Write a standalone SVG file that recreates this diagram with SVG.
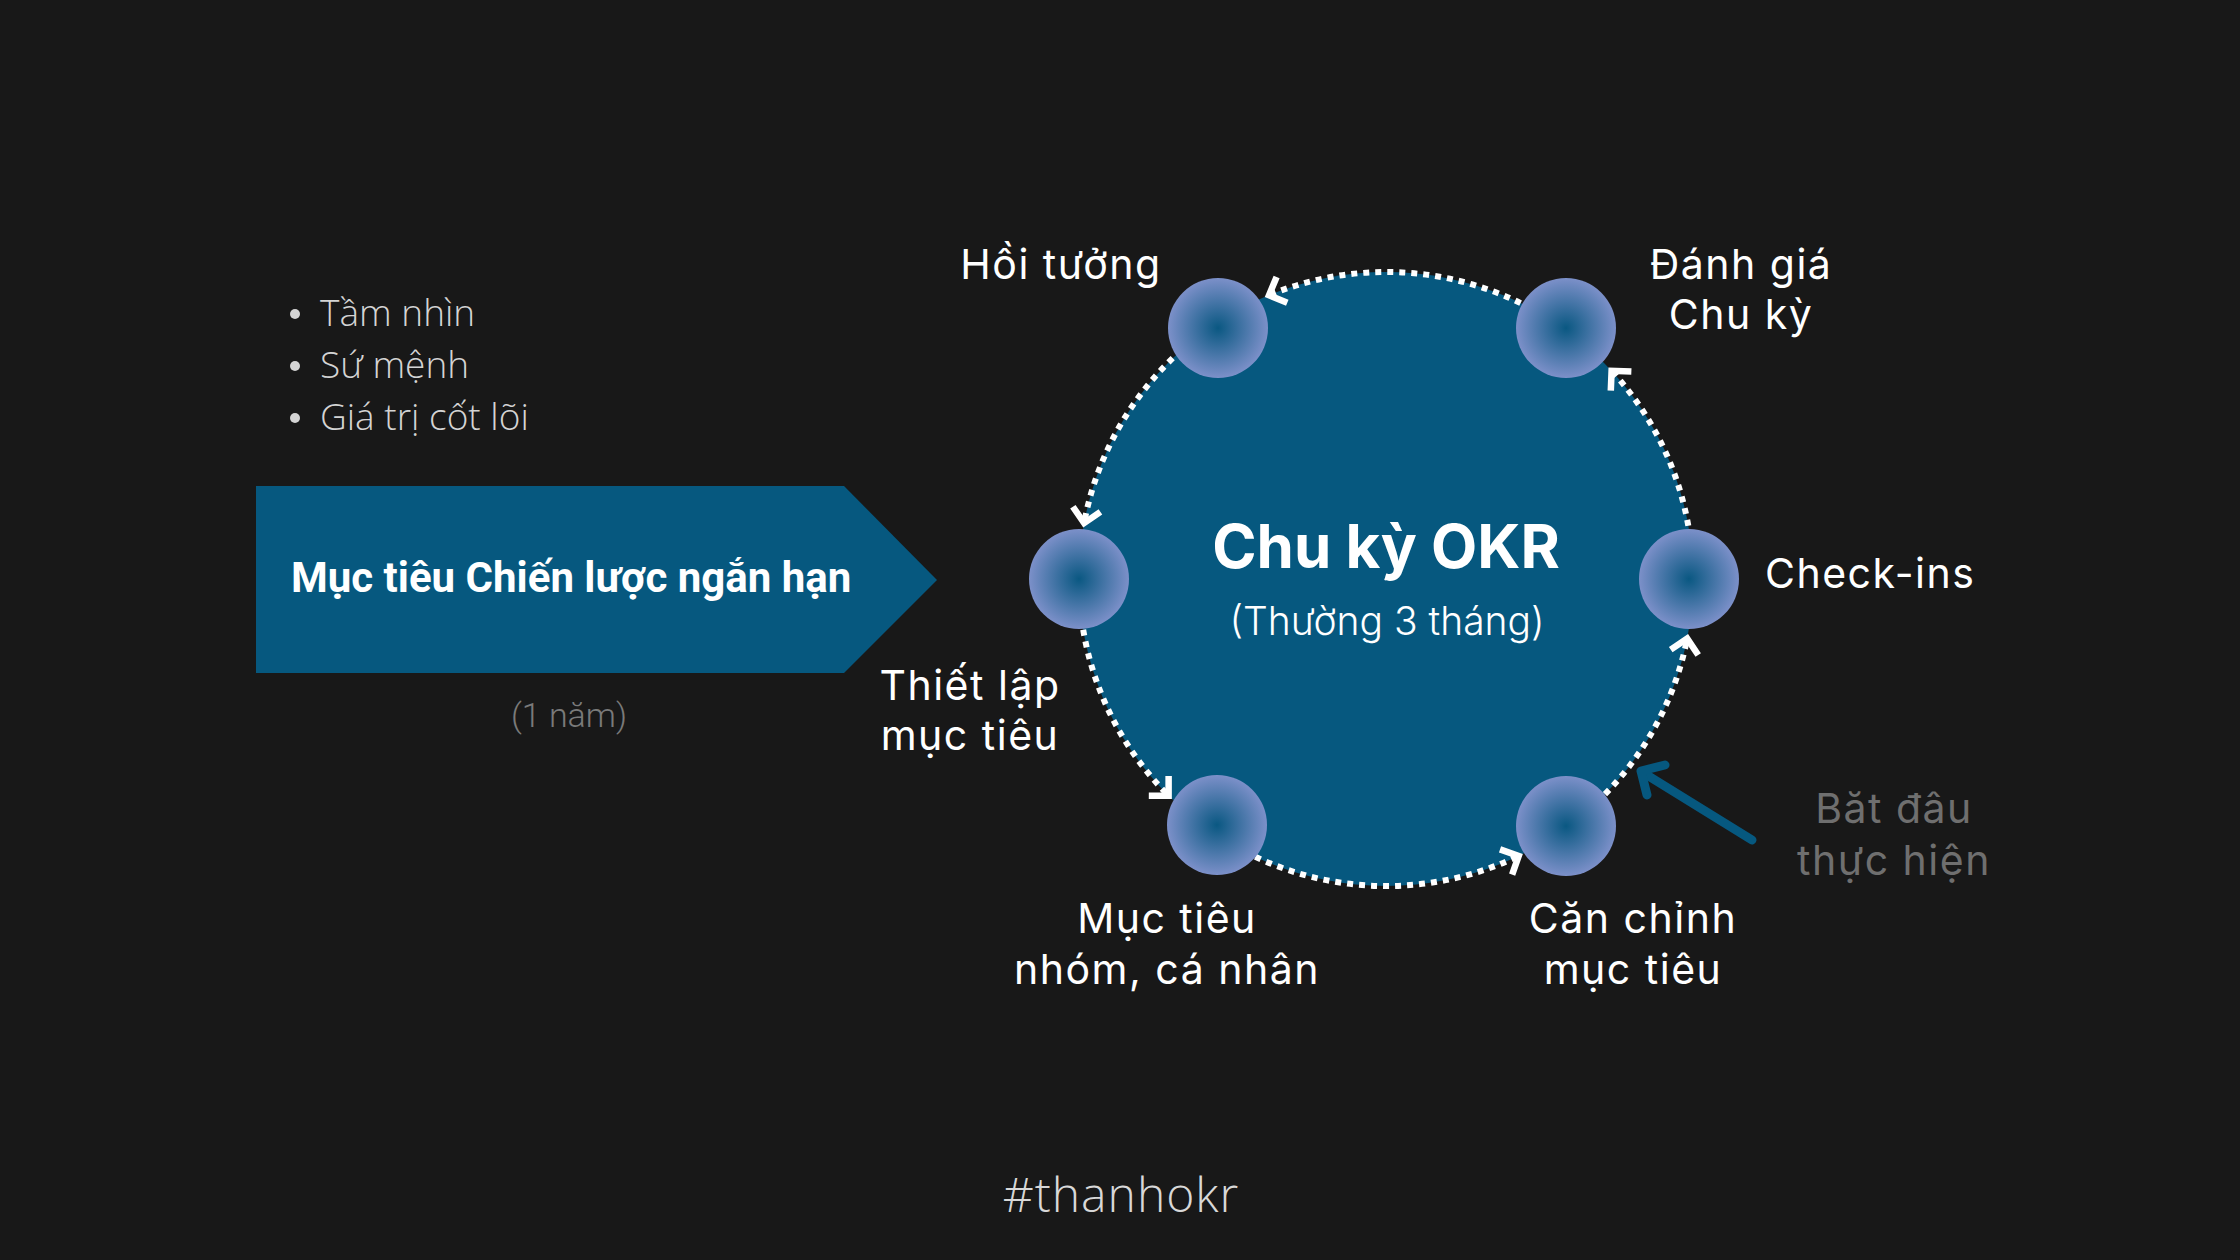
<svg xmlns="http://www.w3.org/2000/svg" width="2240" height="1260" viewBox="0 0 2240 1260">
<defs>
<radialGradient id="ng" cx="50%" cy="50%" r="50%">
<stop offset="0%" stop-color="#0a5882"/>
<stop offset="100%" stop-color="#7c90c9"/>
</radialGradient>
<marker id="ah" markerUnits="userSpaceOnUse" markerWidth="44" markerHeight="44" viewBox="-22 -22 44 44" refX="0" refY="0" orient="auto" overflow="visible">
<path d="M-14,-14 L0,0 L-14,14" fill="none" stroke="#ffffff" stroke-width="6.5" stroke-dasharray="none"/>
</marker>
<style>
.lbl{font-family:Inter,"Noto Sans",sans-serif;font-size:41px;letter-spacing:1.5px;fill:#ffffff;text-anchor:middle}
.arc{fill:none;stroke:#ffffff;stroke-width:6;stroke-dasharray:6 6;marker-end:url(#ah)}
.node{fill:url(#ng)}
.bul{font-family:"Open Sans",Roboto,sans-serif;font-weight:300;font-size:37px;fill:#d4d4d4}
</style>
</defs>
<rect width="2240" height="1260" fill="#181818"/>

<g id="vision-list">
<circle cx="295" cy="314" r="5" fill="#d4d4d4"/>
<text class="bul" x="320" y="326">Tầm nhìn</text>
<circle cx="295" cy="366" r="5" fill="#d4d4d4"/>
<text class="bul" x="320" y="378">Sứ mệnh</text>
<circle cx="295" cy="418" r="5" fill="#d4d4d4"/>
<text class="bul" x="320" y="430">Giá trị cốt lõi</text>
</g>

<g id="strategy">
<polygon points="256,486 844,486 937,580 844,673 256,673" fill="#06587f"/>
<text x="291" y="592" font-family="Roboto,'Noto Sans',sans-serif" font-weight="700" font-size="42" fill="#ffffff">Mục tiêu Chiến lược ngắn hạn</text>
<text x="569" y="727" text-anchor="middle" font-family="Roboto,'Noto Sans',sans-serif" font-weight="300" font-size="34" fill="#7a7a7a">(1 năm)</text>
</g>

<g id="cycle">
<circle cx="1386" cy="579" r="307" fill="#06587f"/>
<text x="1386" y="568" text-anchor="middle" font-family="Inter,'Noto Sans',sans-serif" font-weight="700" font-size="60" fill="#ffffff">Chu kỳ OKR</text>
<text x="1387" y="635" text-anchor="middle" font-family="Inter,'Noto Sans',sans-serif" font-weight="300" font-size="39" fill="#ffffff">(Thường 3 tháng)</text>
</g>

<g id="connectors">
<path class="arc" d="M1520.6,303.1 A307,307 0 0 0 1269.0,295.2"/>
<path class="arc" d="M1172.7,358.2 A307,307 0 0 0 1084.1,523.1"/>
<path class="arc" d="M1083.2,629.7 A307,307 0 0 0 1168.6,795.7"/>
<path class="arc" d="M1255.3,856.8 A307,307 0 0 0 1518.7,855.9"/>
<path class="arc" d="M1605.0,794.2 A307,307 0 0 0 1687.2,638.6"/>
<path class="arc" d="M1688.3,525.7 A307,307 0 0 0 1611.6,370.8"/>
<g id="start-pointer" fill="none" stroke="#06587f" stroke-width="9" stroke-linecap="round" stroke-linejoin="round">
<line x1="1752" y1="840" x2="1642" y2="772"/>
<polyline points="1665,765 1641,771 1647,795"/>
</g>
</g>

<g id="node-hoi-tuong">
<circle class="node" cx="1218" cy="328" r="50"/>
<text class="lbl" x="1061" y="279">Hồi tưởng</text>
</g>
<g id="node-danh-gia">
<circle class="node" cx="1566" cy="328" r="50"/>
<text class="lbl" x="1741" y="279">Đánh giá</text>
<text class="lbl" x="1741" y="329">Chu kỳ</text>
</g>
<g id="node-thiet-lap">
<circle class="node" cx="1079" cy="579" r="50"/>
<text class="lbl" x="970" y="700">Thiết lập</text>
<text class="lbl" x="970" y="750">mục tiêu</text>
</g>
<g id="node-check-ins">
<circle class="node" cx="1689" cy="579" r="50"/>
<text class="lbl" x="1765" y="588" style="text-anchor:start">Check-ins</text>
</g>
<g id="node-muc-tieu-nhom">
<circle class="node" cx="1217" cy="825" r="50"/>
<text class="lbl" x="1167" y="933">Mục tiêu</text>
<text class="lbl" x="1167" y="984">nhóm, cá nhân</text>
</g>
<g id="node-can-chinh">
<circle class="node" cx="1566" cy="826" r="50"/>
<text class="lbl" x="1633" y="933">Căn chỉnh</text>
<text class="lbl" x="1633" y="984">mục tiêu</text>
</g>

<g id="start-label">
<text class="lbl" x="1894" y="823" style="fill:#6f6f6f">Băt đâu</text>
<text class="lbl" x="1894" y="875" style="fill:#6f6f6f">thực hiện</text>
</g>

<g id="hashtag">
<text x="1121" y="1212" text-anchor="middle" font-family="'Open Sans',Lato,sans-serif" font-weight="300" font-size="48" letter-spacing="1" fill="#d8d8d8">#thanhokr</text>
</g>
</svg>
